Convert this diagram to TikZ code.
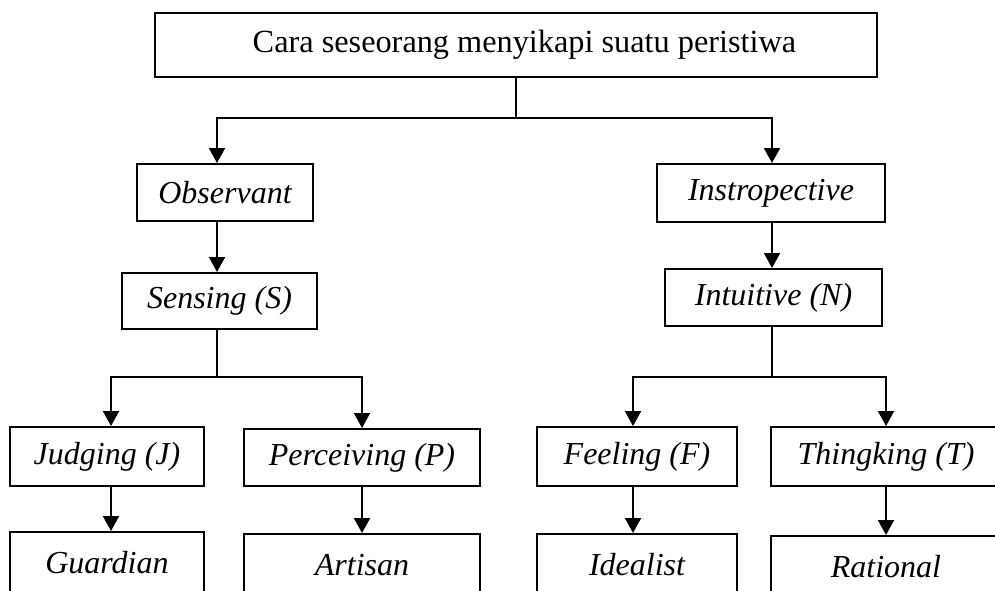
\documentclass[tikz,border=0pt]{standalone}
\usepackage{fontspec}
\setmainfont{Liberation Serif}
\usetikzlibrary{arrows.meta}
\tikzset{
  box/.style={draw, line width=2pt, inner sep=0pt, anchor=center,
    font=\fontsize{32}{38}\selectfont\itshape},
  topbox/.style={box, font=\fontsize{32.3}{38}\selectfont},
  conn/.style={line width=2pt},
  arr/.style={line width=2pt, -{Triangle[length=15pt,width=16pt]}}
}
\begin{document}
\begin{tikzpicture}[x=1pt,y=-1pt]
\useasboundingbox (0,0) rectangle (995,590);
\clip (0,0) rectangle (995,590);
% boxes
\node[topbox, minimum width=722pt, minimum height=64pt] (top) at (516,45) {\hspace*{17pt}Cara seseorang menyikapi suatu peristiwa};
\node[box, minimum width=176pt, minimum height=57pt] (obs) at (225,192.5) {Observant};
\node[box, minimum width=195pt, minimum height=56pt] (sen) at (219.5,301) {Sensing (S)};
\node[box, minimum width=228pt, minimum height=58pt] (ins) at (771,193) {Instropective};
\node[box, minimum width=217pt, minimum height=57pt] (int) at (773.5,297.5) {Intuitive (N)};
\node[box, minimum width=194pt, minimum height=59pt] (jud) at (107,456.5) {Judging (J)};
\node[box, minimum width=236pt, minimum height=57pt] (per) at (362,457.5) {Perceiving (P)};
\node[box, minimum width=200pt, minimum height=59pt] (fee) at (637,456.5) {Feeling (F)};
\node[box, minimum width=230pt, minimum height=59pt] (thi) at (886,456.5) {Thingking (T)};
\node[box, minimum width=194pt, minimum height=62pt] (gua) at (107,563) {Guardian};
\node[box, minimum width=236pt, minimum height=62pt] (art) at (362,565) {Artisan};
\node[box, minimum width=200pt, minimum height=62pt] (ide) at (637,565) {Idealist};
\node[box, minimum width=230pt, minimum height=62pt] (rat) at (886,567) {Rational};
% junctions
\coordinate (j1) at (516,118);
\coordinate (j2) at (217,377);
\coordinate (j3) at (772,377);
% connectors
\draw[conn] (top.south) -- (j1);
\draw[arr] (j1) -| ([xshift=-8pt]obs.north);
\draw[arr] (j1) -| (ins.north -| j3);
\draw[arr] ([xshift=-8pt]obs.south) -- ([xshift=-8pt]obs.south |- sen.north);
\draw[arr] (ins.south -| j3) -- (int.north -| j3);
\draw[conn] (sen.south -| j2) -- (j2);
\draw[arr] (j2) -| ([xshift=4pt]jud.north);
\draw[arr] (j2) -| (per.north);
\draw[conn] (int.south -| j3) -- (j3);
\draw[arr] (j3) -| ([xshift=-4pt]fee.north);
\draw[arr] (j3) -| (thi.north);
\draw[arr] ([xshift=4pt]jud.south) -- ([xshift=4pt]jud.south |- gua.north);
\draw[arr] (per.south) -- (art.north);
\draw[arr] ([xshift=-4pt]fee.south) -- ([xshift=-4pt]fee.south |- ide.north);
\draw[arr] (thi.south) -- (rat.north);
\end{tikzpicture}
\end{document}
